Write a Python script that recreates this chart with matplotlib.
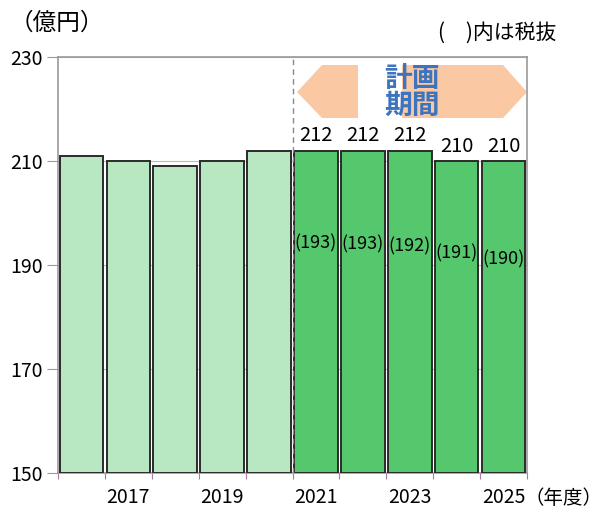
import matplotlib
matplotlib.use("Agg")
import matplotlib.pyplot as plt
from matplotlib.patches import Polygon

plt.rcParams['font.family'] = ['Noto Sans CJK JP', 'DejaVu Sans']

years = [2016, 2017, 2018, 2019, 2020, 2021, 2022, 2023, 2024, 2025]
values = [211, 210, 209, 210, 212, 212, 212, 212, 210, 210]
plan_flags = [False, False, False, False, False, True, True, True, True, True]
tax_excl = [193, 193, 192, 191, 190]
tax_excl_pos = [194.2, 194.0, 193.6, 192.3, 191.0]
tick_labels = ["2017", "2019", "2021", "2023", "2025"]

light = "#B8E8C2"
dark = "#55C86D"

fig = plt.figure(figsize=(6.03, 5.12), dpi=100)
ax = fig.add_axes([58/603, 1-473/512, 469/603, 416/512])

x = list(range(len(years)))
colors = [dark if p else light for p in plan_flags]
ax.bar(x, [v - 150 for v in values], bottom=150, width=0.93, color=colors,
       edgecolor="#2b2b2b", linewidth=1.4, zorder=3)

ax.set_xlim(-0.5, len(years) - 0.5)
ax.set_ylim(150, 230)
ax.set_yticks([150, 170, 190, 210, 230])
ax.yaxis.grid(True, color="#bbbbbb", linewidth=0.8, zorder=0)
ax.tick_params(axis='y', labelsize=14, length=8, color="#999999", pad=3)

# x ticks at category boundaries, labels under every other bar
ax.set_xticks([i - 0.5 for i in range(len(years) + 1)])
ax.set_xticklabels([])
ax.tick_params(axis='x', length=4, color="#b07aa0")
label_idx = [years.index(int(t)) for t in tick_labels]
for i, t in zip(label_idx, tick_labels):
    ax.text(i, -0.06, t, transform=ax.get_xaxis_transform(), ha="center", va="center", fontsize=14)
fig.text(602/603, 1-498/512, "（年度）", ha="right", va="center", fontsize=14)

for s in ax.spines.values():
    s.set_color("#999999")
    s.set_linewidth(1.2)

# divider
ax.axvline(4.5, color="#888888", linestyle=(0, (4, 3)), linewidth=1.0, zorder=4)

# value labels for plan period
plan_idx = [i for i, p in enumerate(plan_flags) if p]
for k, i in enumerate(plan_idx):
    ax.text(i, values[i] + 0.8, str(values[i]), ha="center", va="bottom", fontsize=14.5, zorder=5)
    ax.text(i, tax_excl_pos[k], f"({tax_excl[k]})", ha="center", va="center", fontsize=13, zorder=5)

# arrows
def to_ax(px, py):
    return ((px - 58) / 469, (473 - py) / 416)

left_arrow = [to_ax(297, 92), to_ax(322, 65), to_ax(358, 65), to_ax(358, 118), to_ax(322, 118)]
right_arrow = [to_ax(402, 65), to_ax(503, 65), to_ax(527, 92), to_ax(503, 118), to_ax(402, 118)]
for pts in (left_arrow, right_arrow):
    ax.add_patch(Polygon(pts, closed=True, transform=ax.transAxes, facecolor="#FAC8A2",
                         edgecolor="none", zorder=2))
cx, cy = to_ax(412, 92)
ax.text(cx, cy, "計画\n期間", transform=ax.transAxes, ha="center", va="center", fontsize=20,
        fontweight="bold", color="#3D74BE", linespacing=0.95, zorder=5)

fig.text(10/603, 1-23/512, "（億円）", ha="left", va="center", fontsize=17)
fig.text(556/603, 1-33/512, "(　)内は税抜", ha="right", va="center", fontsize=15)

fig.savefig("out.png", dpi=100)
